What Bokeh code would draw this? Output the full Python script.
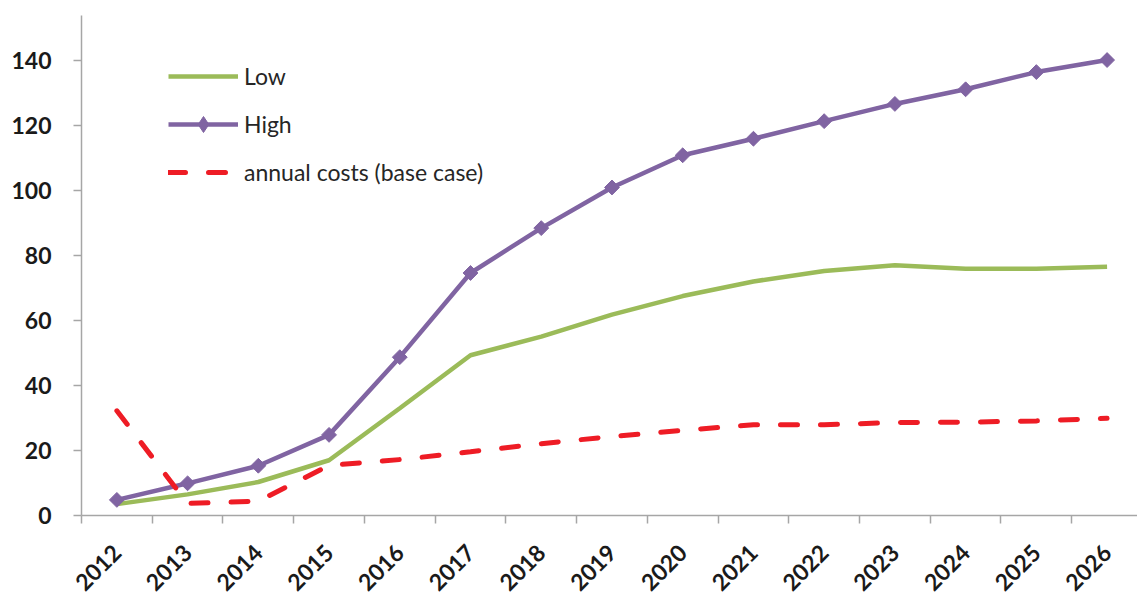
import math
from bokeh.plotting import figure
from bokeh.models import Range1d, FixedTicker, Legend, LegendItem, ColumnDataSource
from bokeh.embed import file_html
from bokeh.resources import INLINE

years = ["2012", "2013", "2014", "2015", "2016", "2017", "2018", "2019",
         "2020", "2021", "2022", "2023", "2024", "2025", "2026"]
low = [3.5, 6.5, 10.3, 17.0, 33.0, 49.3, 55.0, 61.8, 67.5, 72.0, 75.2, 77.0, 75.9, 75.9, 76.5]
high = [4.8, 9.9, 15.3, 24.8, 48.7, 74.6, 88.4, 100.9, 110.8, 115.9, 121.3, 126.6, 131.1, 136.4, 140.1]
costs = [32.2, 3.7, 4.4, 15.4, 17.2, 19.6, 22.1, 24.3, 26.2, 27.9, 27.9, 28.6, 28.7, 29.1, 29.9]
y_ticks = [0, 20, 40, 60, 80, 100, 120, 140]

xs = [i + 0.5 for i in range(len(years))]
src = ColumnDataSource(dict(x=xs, low=low, high=high, costs=costs))

GRAY = "#A6A6A6"
FONT = "Lato"

p = figure(width=1137, height=601, output_backend="svg", toolbar_location=None,
           x_range=Range1d(0, 14.93), y_range=Range1d(0, 153.8),
           min_border_left=81, min_border_right=0, min_border_top=15, min_border_bottom=10)
p.outline_line_color = None
p.grid.visible = False
p.background_fill_color = "white"

# x axis
xa = p.xaxis[0]
xa.ticker = FixedTicker(ticks=xs, minor_ticks=list(range(0, 15)))
xa.major_label_overrides = {x: y for x, y in zip(xs, years)}
xa.major_label_orientation = math.pi / 4
xa.major_tick_out = 0
xa.major_tick_in = 0
xa.minor_tick_out = 8
xa.minor_tick_in = 0
xa.minor_tick_line_color = GRAY
xa.minor_tick_line_width = 1.5
xa.axis_line_color = GRAY
xa.axis_line_width = 1.5
xa.major_label_text_font = FONT
xa.major_label_text_font_style = "bold"
xa.major_label_text_font_size = "23px"
xa.major_label_text_color = "#1A1A1A"
xa.major_label_standoff = 25

# y axis
ya = p.yaxis[0]
ya.ticker = FixedTicker(ticks=y_ticks)
ya.minor_tick_line_color = None
ya.major_tick_out = 8
ya.major_tick_in = 0
ya.major_tick_line_color = GRAY
ya.major_tick_line_width = 1.5
ya.axis_line_color = GRAY
ya.axis_line_width = 1.5
ya.major_label_text_font = FONT
ya.major_label_text_font_style = "bold"
ya.major_label_text_font_size = "23px"
ya.major_label_text_color = "#1A1A1A"
ya.major_label_standoff = 22

r_low = p.line("x", "low", source=src, line_color="#9BBB59", line_width=4.5)
r_high = p.line("x", "high", source=src, line_color="#8064A2", line_width=4.5)
r_high_m = p.scatter("x", "high", source=src, marker="square", angle=math.pi / 4, size=10.5,
                     fill_color="#8064A2", line_color="#8064A2")
# legend-only marker (legend glyphs ignore angle)
r_high_leg = p.scatter(x=[float("nan")], y=[float("nan")], marker="diamond", size=16,
                       fill_color="#8064A2", line_color="#8064A2")
r_cost = p.line("x", "costs", source=src, line_color="#EE1C25", line_width=5,
                line_dash="17 23", line_cap="round")

legend = Legend(items=[
    LegendItem(label="Low", renderers=[r_low]),
    LegendItem(label="High", renderers=[r_high, r_high_leg]),
    LegendItem(label="annual costs (base case)", renderers=[r_cost]),
], location=(87, 323))
legend.glyph_width = 70
legend.glyph_height = 40
legend.spacing = 8
legend.padding = 0
legend.label_standoff = 6
legend.border_line_color = None
legend.background_fill_alpha = 0
legend.label_text_font = FONT
legend.label_text_font_size = "23px"
legend.label_text_color = "#262626"
p.add_layout(legend, "center")

open("out.html", "w").write(file_html(p, INLINE))
